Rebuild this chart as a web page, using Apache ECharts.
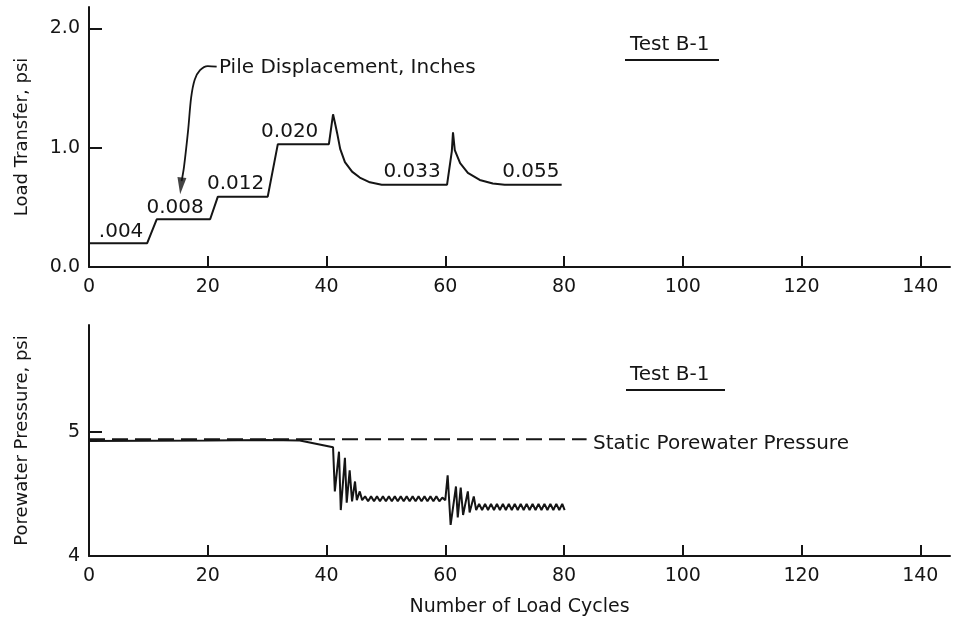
<!DOCTYPE html>
<html>
<head>
<meta charset="utf-8">
<title>Test B-1</title>
<script src="https://cdn.jsdelivr.net/npm/echarts@6.0.0/dist/echarts.min.js"></script>
<style>
  html, body { margin: 0; padding: 0; background: #fff; }
  #tu1 { width: 954px; height: 624px; }
</style>
</head>
<body>
<div id="tu1"></div>
<script>
var ink = '#151515';
var fontName = 'DejaVu Sans';

// x ticks / labels
var xTicks = [20, 40, 60, 80, 100, 120, 140];
var xLabels = [0, 20, 40, 60, 80, 100, 120, 140];
var loadTicks = [1, 2];
var loadLabels = [0, 1, 2];
var poreTicks = [5];
var poreLabels = [4, 5];

// load transfer, psi  [cycle, value]
var loadTransfer = [
    [0, 0.20], [9.8, 0.20], [11.4, 0.40], [20.4, 0.40], [21.7, 0.59], [30.1, 0.59],
    [31.8, 1.03], [40.4, 1.03], [41.1, 1.28], [41.5, 1.19], [41.8, 1.12], [42.3, 0.99],
    [43.1, 0.88], [44.3, 0.80], [45.6, 0.75], [47.3, 0.71], [49.3, 0.69], [60.3, 0.69],
    [61.1, 0.97], [61.3, 1.13], [61.6, 0.98], [62.5, 0.87], [63.8, 0.79], [65.8, 0.73],
    [68.0, 0.70], [70.0, 0.69], [79.6, 0.69]
];

// pile displacement labels (inches)
var dispLabels = [
    { name: '.004', value: [5.4, 0.295] },
    { name: '0.008', value: [14.5, 0.50] },
    { name: '0.012', value: [24.7, 0.70] },
    { name: '0.020', value: [33.8, 1.13] },
    { name: '0.033', value: [54.4, 0.80] },
    { name: '0.055', value: [74.4, 0.80] }
];

// leader arrow for "Pile Displacement, Inches"
var arrowPath = [
    [21.5, 1.68], [20.0, 1.685], [18.7, 1.65], [17.8, 1.57], [17.2, 1.42],
    [16.7, 1.15], [16.0, 0.84], [15.6, 0.72]
];
var arrowTip = [[15.5, 0.68]];

// porewater pressure, psi
var porePressure = [
    [0, 4.925], [20, 4.93], [30, 4.935], [35.5, 4.93], [41.1, 4.875],
    [41.4, 4.52], [42.1, 4.84], [42.4, 4.37], [43.1, 4.79], [43.4, 4.43],
    [43.9, 4.69], [44.3, 4.44], [44.8, 4.60], [45.1, 4.45], [45.6, 4.52], [46.0, 4.45],
    [46.5, 4.48], [47.0, 4.44], [47.5, 4.48], [48.0, 4.44], [48.5, 4.48], [49.0, 4.44],
    [49.5, 4.48], [50.0, 4.44], [50.5, 4.48], [51.0, 4.44], [51.5, 4.48], [52.0, 4.44],
    [52.5, 4.48], [53.0, 4.44], [53.5, 4.48], [54.0, 4.44], [54.5, 4.48], [55.0, 4.44],
    [55.5, 4.48], [56.0, 4.44], [56.5, 4.48], [57.0, 4.44], [57.5, 4.48], [58.0, 4.44],
    [58.5, 4.48], [59.0, 4.44], [59.5, 4.47], [60.0, 4.45],
    [60.4, 4.65], [60.9, 4.25], [61.8, 4.56], [62.1, 4.31], [62.6, 4.55], [63.0, 4.33],
    [63.8, 4.52], [64.1, 4.35], [64.8, 4.48], [65.2, 4.37],
    [65.7, 4.42], [66.2, 4.37], [66.7, 4.42], [67.2, 4.37], [67.7, 4.42], [68.2, 4.37],
    [68.7, 4.42], [69.2, 4.37], [69.7, 4.42], [70.2, 4.37], [70.7, 4.42], [71.2, 4.37],
    [71.7, 4.42], [72.2, 4.37], [72.7, 4.42], [73.2, 4.37], [73.7, 4.42], [74.2, 4.37],
    [74.7, 4.42], [75.2, 4.37], [75.7, 4.42], [76.2, 4.37], [76.7, 4.42], [77.2, 4.37],
    [77.7, 4.42], [78.2, 4.37], [78.7, 4.42], [79.2, 4.37], [79.7, 4.42], [80.1, 4.37]
];
var staticPressure = [[0, 4.94], [83.8, 4.94]];

var myChart1 = echarts.init(document.getElementById('tu1'), null, { renderer: 'canvas' });

function xAxisOf(idx, name) {
    return {
        type: 'value',
        gridIndex: idx,
        min: 0,
        max: 145,
        name: name,
        nameLocation: 'middle',
        nameGap: 42,
        nameTextStyle: { color: ink, fontSize: 19, fontFamily: fontName },
        axisLine: { onZero: false, lineStyle: { color: ink, width: 2 } },
        axisTick: { inside: true, length: 11, customValues: xTicks, lineStyle: { color: ink, width: 2 } },
        axisLabel: { customValues: xLabels, margin: 11, color: ink, fontSize: 19, fontFamily: fontName },
        splitLine: { show: false }
    };
}

function yAxisOf(idx, min, max, ticks, labels, name, digits) {
    return {
        type: 'value',
        gridIndex: idx,
        min: min,
        max: max,
        name: name,
        nameLocation: 'middle',
        nameGap: 58,
        nameTextStyle: { color: ink, fontSize: 18, fontFamily: fontName },
        axisLine: { onZero: false, lineStyle: { color: ink, width: 2 } },
        axisTick: { inside: true, length: 13, customValues: ticks, lineStyle: { color: ink, width: 2 } },
        axisLabel: {
            customValues: labels, margin: 9, color: ink, fontSize: 19, fontFamily: fontName,
            formatter: function (v) { return v.toFixed(digits); }
        },
        splitLine: { show: false }
    };
}

var option1 = {
    backgroundColor: '#fff',
    animation: false,
    grid: [
        { left: 89, right: 4, top: 7, height: 260 },
        { left: 89, right: 4, top: 325, height: 231 }
    ],
    xAxis: [xAxisOf(0, ''), xAxisOf(1, 'Number of Load Cycles')],
    yAxis: [
        yAxisOf(0, 0, 2.18, loadTicks, loadLabels, 'Load Transfer, psi', 1),
        yAxisOf(1, 4, 5.86, poreTicks, poreLabels, 'Porewater Pressure, psi', 0)
    ],
    graphic: [
        { type: 'text', left: 630, top: 35, style: { text: 'Test B-1', fill: ink, fontSize: 20, fontFamily: fontName } },
        { type: 'line', shape: { x1: 625, y1: 60, x2: 719, y2: 60 }, style: { stroke: ink, lineWidth: 2 } },
        { type: 'text', left: 630, top: 365, style: { text: 'Test B-1', fill: ink, fontSize: 20, fontFamily: fontName } },
        { type: 'line', shape: { x1: 626, y1: 390, x2: 725, y2: 390 }, style: { stroke: ink, lineWidth: 2 } },
        { type: 'text', left: 219, top: 58, style: { text: 'Pile Displacement, Inches', fill: ink, fontSize: 20, fontFamily: fontName } },
        { type: 'text', left: 593, top: 434, style: { text: 'Static Porewater Pressure', fill: ink, fontSize: 20, fontFamily: fontName } }
    ],
    series: [
        {
            type: 'line', xAxisIndex: 0, yAxisIndex: 0,
            data: loadTransfer, showSymbol: false, symbol: 'none',
            lineStyle: { color: ink, width: 2 }
        },
        {
            type: 'scatter', xAxisIndex: 0, yAxisIndex: 0,
            data: dispLabels, symbolSize: 1,
            itemStyle: { color: '#fff' },
            label: {
                show: true, position: 'inside', color: ink, opacity: 1, textBorderWidth: 0,
                fontSize: 20, fontFamily: fontName,
                formatter: function (p) { return p.name; }
            }
        },
        {
            type: 'line', xAxisIndex: 0, yAxisIndex: 0,
            data: arrowPath, smooth: 0.3, symbol: 'none',
            lineStyle: { color: ink, width: 1.8 }
        },
        {
            type: 'scatter', xAxisIndex: 0, yAxisIndex: 0,
            data: arrowTip, symbol: 'triangle', symbolSize: [9, 17], symbolRotate: 174,
            itemStyle: { color: ink }
        },
        {
            type: 'line', xAxisIndex: 1, yAxisIndex: 1,
            data: staticPressure, symbol: 'none',
            lineStyle: { color: ink, width: 2, type: [16, 7] }
        },
        {
            type: 'line', xAxisIndex: 1, yAxisIndex: 1,
            data: porePressure, symbol: 'none',
            lineStyle: { color: ink, width: 2 }
        }
    ]
};

myChart1.setOption(option1);
</script>
</body>
</html>
